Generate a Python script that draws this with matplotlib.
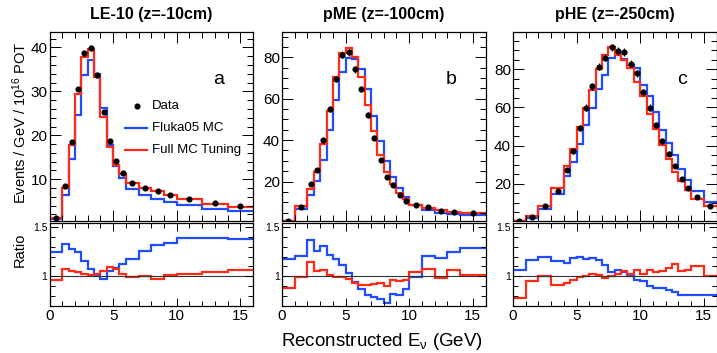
import matplotlib
matplotlib.use('Agg')
import matplotlib.pyplot as plt
import numpy as np
from matplotlib.ticker import MultipleLocator, FixedLocator

plt.rcParams['font.family'] = ['Liberation Sans', 'DejaVu Sans']
plt.rcParams['mathtext.fontset'] = 'custom'
plt.rcParams['mathtext.rm'] = 'Liberation Sans'
plt.rcParams['mathtext.it'] = 'Liberation Sans:italic'

# ---------------- data ----------------
titles = ["LE-10 (z=-10cm)", "pME (z=-100cm)", "pHE (z=-250cm)"]
letters = ["a", "b", "c"]

edges_a = [0, 1, 1.5, 2, 2.5, 3, 3.5, 4, 4.5, 5, 5.5, 6, 7, 8, 9, 10, 12, 14, 16]
data_a = [1.2, 8.5, 18.5, 30.5, 38.8, 39.9, 33.7, 25.3, 18.7, 14.2, 11.5, 9.1, 8.0, 7.3, 6.5, 5.6, 4.5, 3.8]
err_a = [0.3, 0.4, 0.5, 0.6, 0.7, 0.7, 0.6, 0.5, 0.5, 0.4, 0.4, 0.3, 0.3, 0.3, 0.3, 0.2, 0.2, 0.2]
red_a = [1.24, 7.9, 17.7, 29.4, 37.9, 39.6, 33.2, 24.2, 17.4, 13.3, 11.1, 9.2, 8.05, 7.4, 6.5, 5.45, 4.35, 3.6]
blue_a = [0.96, 6.4, 14.6, 24.6, 33.8, 37.2, 34.0, 26.3, 17.9, 13.1, 10.2, 7.7, 6.4, 5.5, 4.9, 4.05, 3.3, 2.78]
rred_a = [0.967, 1.073, 1.05, 1.04, 1.027, 1.013, 1.02, 1.05, 1.09, 1.07, 1.02, 0.99, 1.0, 0.976, 1.01, 1.027, 1.04, 1.06]
rblue_a = [1.25, 1.327, 1.273, 1.243, 1.16, 1.073, 1.007, 0.97, 1.05, 1.08, 1.124, 1.18, 1.257, 1.317, 1.334, 1.384, 1.384, 1.377]

edges_b = [0, 1, 2, 2.5, 3, 3.5, 4, 4.5, 5, 5.5, 6, 6.5, 7, 7.5, 8, 8.5, 9, 9.5, 10, 11, 12, 13, 14, 16]
data_b = [1.0, 7.8, 18.7, 25.4, 40.0, 54.9, 69.5, 81.3, 82.4, 74.3, 64.6, 52.1, 41.1, 30.5, 22.1, 18.1, 13.5, 10.8, 8.7, 7.5, 5.9, 5.4, 4.9]
err_b = [0.3, 0.6, 0.9, 1.0, 1.2, 1.4, 1.5, 1.7, 1.7, 1.6, 1.5, 1.4, 1.2, 1.1, 0.9, 0.8, 0.7, 0.6, 0.5, 0.5, 0.4, 0.4, 0.3]
red_b = [1.13, 8.1, 16.3, 24.4, 37.9, 54.2, 70.3, 82.0, 84.8, 80.0, 70.6, 56.9, 44.3, 32.8, 24.4, 18.9, 14.2, 11.3, 8.4, 7.0, 6.0, 5.1, 4.8]
blue_b = [0.85, 6.5, 13.6, 20.2, 30.6, 45.1, 59.2, 72.8, 79.8, 79.3, 74.5, 64.6, 51.8, 39.8, 30.1, 22.2, 16.7, 12.4, 8.8, 6.2, 5.0, 4.3, 3.8]
rred_b = [0.883, 0.993, 1.15, 1.05, 1.06, 1.017, 0.993, 0.993, 0.973, 0.933, 0.917, 0.917, 0.927, 0.933, 0.907, 0.96, 0.95, 0.96, 1.04, 1.073, 0.983, 1.06, 1.017]
rblue_b = [1.173, 1.207, 1.373, 1.26, 1.307, 1.217, 1.173, 1.117, 1.033, 0.94, 0.873, 0.807, 0.793, 0.767, 0.733, 0.817, 0.807, 0.873, 0.993, 1.207, 1.183, 1.25, 1.283]

edges_c = [0, 1, 2, 3, 4, 4.5, 5, 5.5, 6, 6.5, 7, 7.5, 8, 8.5, 9, 9.5, 10, 10.5, 11, 11.5, 12, 12.5, 13, 13.5, 14, 15, 16]
data_c = [0.4, 2.7, 8.3, 15.9, 27.1, 37.0, 49.2, 59.9, 71.0, 81.4, 86.2, 91.5, 89.5, 89.0, 83.0, 78.0, 68.0, 59.9, 50.8, 42.4, 35.6, 29.3, 22.7, 17.8, 13.2, 8.3]
err_c = [0.2, 0.5, 0.8, 1.0, 1.2, 1.4, 1.5, 1.7, 1.8, 1.9, 2.0, 2.0, 2.0, 2.0, 1.9, 1.9, 1.8, 1.7, 1.6, 1.4, 1.3, 1.2, 1.0, 0.9, 0.8, 0.6]
red_c = [0.5, 3.1, 8.5, 17.6, 29.1, 38.3, 49.5, 59.5, 69.1, 80.0, 87.7, 91.5, 87.6, 85.0, 80.8, 73.6, 66.2, 56.5, 48.8, 40.4, 32.8, 26.0, 21.6, 16.7, 12.0, 8.3]
blue_c = [0.4, 2.2, 6.7, 14.5, 23.8, 31.2, 41.0, 50.9, 59.9, 69.6, 77.1, 86.0, 88.3, 85.5, 82.5, 80.7, 71.6, 66.2, 57.7, 48.2, 41.5, 35.0, 27.9, 21.9, 16.2, 10.3]
rred_c = [0.78, 0.95, 1.007, 0.916, 0.93, 0.966, 0.993, 1.007, 1.027, 1.017, 0.983, 1.007, 1.027, 1.05, 1.027, 1.06, 1.027, 1.06, 1.04, 1.05, 1.084, 1.128, 1.05, 1.068, 1.1, 1.0]
rblue_c = [1.068, 1.17, 1.2, 1.16, 1.14, 1.186, 1.2, 1.176, 1.186, 1.17, 1.118, 1.04, 1.068, 1.04, 1.007, 0.966, 0.95, 0.905, 0.88, 0.88, 0.858, 0.838, 0.814, 0.814, 0.814, 0.807]

ylims = [(0.5, 43.5), (0.9, 92.3), (0.4, 99.6)]
ymajor = [10, 20, 20]
yminor = [2, 5, 5]

legend_labels = ["Data", "Fluka05 MC", "Full MC Tuning"]

BLUE = '#1f4dff'
RED = '#ff2b17'

# ---------------- layout ----------------
W, H = 717, 353
fig = plt.figure(figsize=(W / 100, H / 100), dpi=100)


def rect(x0, x1, y0, y1):
    return [x0 / W, 1 - y1 / H, (x1 - x0) / W, (y1 - y0) / H]


xpix = [(49.5, 253), (282, 485.5), (513, 716.5)]
sets = [
    (edges_a, data_a, err_a, red_a, blue_a, rred_a, rblue_a),
    (edges_b, data_b, err_b, red_b, blue_b, rred_b, rblue_b),
    (edges_c, data_c, err_c, red_c, blue_c, rred_c, rblue_c),
]


def style(ax, major_len=6, minor_len=3.5):
    ax.tick_params(which='both', direction='in', top=True, right=True, width=0.7, colors='k')
    ax.tick_params(which='major', length=major_len)
    ax.tick_params(which='minor', length=minor_len)
    for s in ax.spines.values():
        s.set_linewidth(0.9)


for i, (x0, x1) in enumerate(xpix):
    edges, data, err, red, blue, rred, rblue = sets[i]
    edges = np.array(edges)
    centers = 0.5 * (edges[:-1] + edges[1:])

    ax = fig.add_axes(rect(x0, x1, 32, 221))
    axr = fig.add_axes(rect(x0, x1, 223, 306))

    ax.stairs(blue, edges, color=BLUE, lw=1.6, baseline=None)
    ax.stairs(red, edges, color=RED, lw=1.6, baseline=None)
    ax.errorbar(centers, data, yerr=err, fmt='o', color='k', ms=3.4,
                elinewidth=0.8, capsize=0, zorder=5)
    ax.set_xlim(0, 16)
    ax.set_ylim(*ylims[i])
    ax.xaxis.set_major_locator(MultipleLocator(5))
    ax.xaxis.set_minor_locator(MultipleLocator(1))
    ax.yaxis.set_major_locator(MultipleLocator(ymajor[i]))
    ax.yaxis.set_minor_locator(MultipleLocator(yminor[i]))
    ax.set_xticklabels([])
    style(ax, major_len=8, minor_len=4)
    ax.tick_params(axis='y', labelsize=11, pad=1.5)
    ax.text(0.83, 0.75, letters[i], transform=ax.transAxes, fontsize=14,
            ha='center', va='center')

    axr.stairs(rblue, edges, color=BLUE, lw=1.6, baseline=None)
    axr.stairs(rred, edges, color=RED, lw=1.6, baseline=None)
    axr.axhline(1.0, color='#333333', lw=0.8, zorder=1)
    axr.set_xlim(0, 16)
    axr.set_ylim(0.7, 1.54)
    axr.xaxis.set_major_locator(MultipleLocator(5))
    axr.xaxis.set_minor_locator(MultipleLocator(1))
    axr.yaxis.set_major_locator(FixedLocator([1.0, 1.5]))
    axr.yaxis.set_minor_locator(MultipleLocator(0.1))
    axr.set_yticklabels(['1', '1.5'])
    style(axr, major_len=6, minor_len=3.5)
    axr.tick_params(axis='y', labelsize=7.5, pad=1.5)
    axr.tick_params(axis='x', labelsize=11, pad=2)

    fig.text((x0 + x1) / 2 / W, 1 - 15 / H, titles[i], fontsize=11.5,
             fontweight='bold', ha='center', va='center')

    if i == 0:
        # legend drawn in axes fraction
        ax.plot([0.428], [0.608], 'o', color='k', ms=3.4, transform=ax.transAxes)
        ax.plot([0.371, 0.479], [0.492, 0.492], color=BLUE, lw=1.6, transform=ax.transAxes)
        ax.plot([0.371, 0.479], [0.376, 0.376], color=RED, lw=1.6, transform=ax.transAxes)
        for yy, lab in zip([0.608, 0.492, 0.376], legend_labels):
            ax.text(0.505, yy, lab, transform=ax.transAxes, fontsize=9.5,
                    ha='left', va='center')

fig.text(20 / W, 1 - 123 / H, 'Events / GeV / 10$^{16}$ POT', rotation=90,
         fontsize=10.5, ha='center', va='center')
fig.text(20 / W, 1 - 250 / H, 'Ratio', rotation=90, fontsize=10.5,
         ha='center', va='center')
fig.text(382 / W, 1 - 341 / H, 'Reconstructed E$_{\\mathrm{\\nu}}$ (GeV)', fontsize=13.5,
         ha='center', va='center')

fig.savefig('out.png', dpi=100)
